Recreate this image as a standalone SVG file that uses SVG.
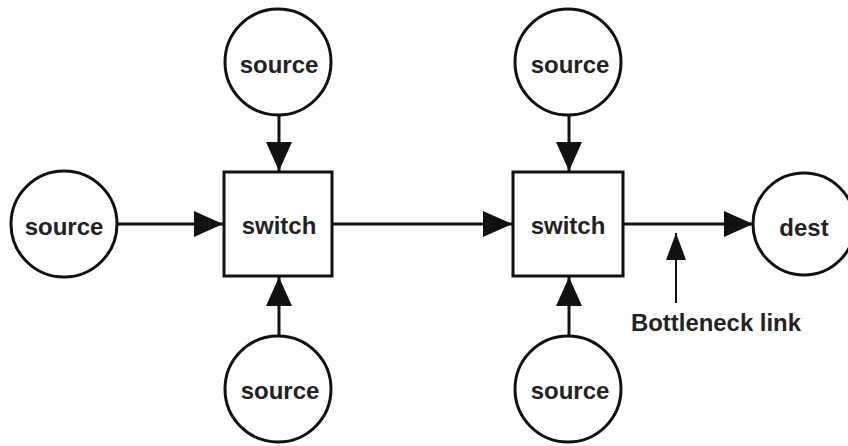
<svg xmlns="http://www.w3.org/2000/svg" width="848" height="446" viewBox="0 0 848 446">
<defs>
<style>
.n{fill:#fff;stroke:#111;stroke-width:3}
.t{font-family:"Liberation Sans",Arial,sans-serif;font-weight:bold;font-size:24px;fill:#222;text-anchor:middle}
.c{stroke:#111;stroke-width:3;fill:none}
</style>
<marker id="ah" markerUnits="userSpaceOnUse" markerWidth="30" markerHeight="28" refX="29" refY="13" orient="auto">
<path d="M0,0 L29,13 L0,26 z" fill="#111"/>
</marker>
<marker id="ah2" markerUnits="userSpaceOnUse" markerWidth="28" markerHeight="22" refX="27" refY="10" orient="auto">
<path d="M0,0 L27,10 L0,20 z" fill="#111"/>
</marker>
</defs>
<rect width="848" height="446" fill="#fff"/>
<g id="connectors">
<line class="c" x1="117" y1="224" x2="223" y2="224" marker-end="url(#ah)"/>
<line class="c" x1="279" y1="115" x2="279" y2="171" marker-end="url(#ah)"/>
<line class="c" x1="279" y1="336" x2="279" y2="277" marker-end="url(#ah)"/>
<line class="c" x1="332" y1="224" x2="512" y2="224" marker-end="url(#ah)"/>
<line class="c" x1="569" y1="115" x2="569" y2="171" marker-end="url(#ah)"/>
<line class="c" x1="569" y1="336" x2="569" y2="277" marker-end="url(#ah)"/>
<line class="c" x1="623" y1="224" x2="753" y2="224" marker-end="url(#ah)"/>
<line stroke="#111" stroke-width="2" x1="676" y1="303" x2="676" y2="233" marker-end="url(#ah2)"/>
</g>
<g id="src_top_left"><circle class="n" cx="278" cy="62" r="53"/><text class="t" x="279" y="73">source</text></g>
<g id="src_left"><circle class="n" cx="64" cy="224" r="53"/><text class="t" x="64" y="235">source</text></g>
<g id="src_bottom_left"><circle class="n" cx="278" cy="389" r="53"/><text class="t" x="280" y="399">source</text></g>
<g id="switch1"><rect class="n" x="224" y="172" width="108" height="104"/><text class="t" x="279" y="234">switch</text></g>
<g id="src_top_right"><circle class="n" cx="568" cy="62" r="53"/><text class="t" x="570" y="73">source</text></g>
<g id="src_bottom_right"><circle class="n" cx="568" cy="389" r="53"/><text class="t" x="570" y="399">source</text></g>
<g id="switch2"><rect class="n" x="513" y="172" width="110" height="104"/><text class="t" x="568" y="234">switch</text></g>
<g id="dest"><circle class="n" cx="804" cy="224" r="51"/><text class="t" x="804" y="236">dest</text></g>
<g id="label"><text class="t" x="716" y="331" textLength="170" lengthAdjust="spacingAndGlyphs" style="font-size:23px">Bottleneck link</text></g>
</svg>
